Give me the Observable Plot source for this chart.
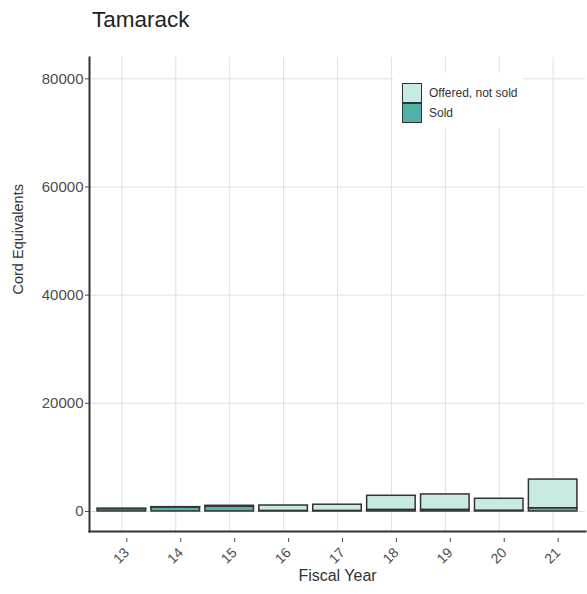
<!DOCTYPE html>
<html>
<head>
<meta charset="utf-8">
<script src="https://cdn.jsdelivr.net/npm/d3@7"></script>
<script src="https://cdn.jsdelivr.net/npm/@observablehq/plot@0.6"></script>
<style>
  body { margin: 0; background: white; font-family: "Liberation Sans", Arial, sans-serif; }
  #wrap { position: relative; width: 587px; height: 594px; }
  #title { position: absolute; left: 92px; top: 9px; font-size: 22.5px; line-height: 22px; color: #222; }
  #chart { position: absolute; left: 0; top: 50px; }
  #legend { position: absolute; left: 393px; top: 73px; width: 130px; height: 56px; background: white; }
  .key { position: absolute; left: 9px; width: 18px; height: 18px; border: 1px solid #333; }
  .lab { position: absolute; left: 36px; font-size: 12px; line-height: 12px; color: #333; }
</style>
</head>
<body>
<div id="wrap">
  <div id="title">Tamarack</div>
  <div id="chart"></div>
  <div id="legend"></div>
</div>
<script>
const years = ["13", "14", "15", "16", "17", "18", "19", "20", "21"];
const soldValues = [450, 750, 900, 100, 100, 300, 300, 150, 600];
const offeredNotSoldValues = [50, 50, 150, 1000, 1150, 2600, 2850, 2200, 5300];
const seriesNames = ["Sold", "Offered, not sold"];
const seriesColors = ["#52b2a7", "#c8eae5"];
const yTicks = [0, 20000, 40000, 60000, 80000];

const data = [];
years.forEach((yr, i) => {
  data.push({year: yr, type: "Sold", value: soldValues[i]});
  data.push({year: yr, type: "Offered, not sold", value: offeredNotSoldValues[i]});
});

const chart = Plot.plot({
  width: 587,
  height: 544,
  marginTop: 7,
  marginBottom: 63,
  marginLeft: 89,
  marginRight: 2,
  style: {fontFamily: "Liberation Sans, Arial, sans-serif", fontSize: "14px", color: "#4d4d4d", background: "white"},
  x: {domain: years, paddingInner: 0.1, paddingOuter: 0.15, round: false, label: null},
  y: {domain: [-3704, 83944], label: null},
  color: {domain: seriesNames, range: seriesColors},
  marks: [
    Plot.gridX(years, {stroke: "#e0e0e0", strokeOpacity: 1, strokeWidth: 1}),
    Plot.gridY(yTicks, {stroke: "#e0e0e0", strokeOpacity: 1, strokeWidth: 1}),
    Plot.barY(data, {x: "year", y: "value", fill: "type", stroke: "#333", strokeWidth: 1.5, order: seriesNames}),
    Plot.axisY(yTicks, {tickSize: 4, tickFormat: d => String(d), label: null, fontSize: 15, tickPadding: 2}),
    Plot.axisX({tickRotate: -45, tickSize: 4, label: null, fontSize: 14, dx: 5, dy: 7}),
    Plot.frame({anchor: "left", stroke: "#333", strokeWidth: 2}),
    Plot.frame({anchor: "bottom", stroke: "#333", strokeWidth: 2}),
    Plot.text(["Fiscal Year"], {frameAnchor: "bottom", dy: 49, fontSize: 16, fill: "#333"}),
    Plot.text(["Cord Equivalents"], {frameAnchor: "left", dx: -71, rotate: -90, fontSize: 14.5, fill: "#333"})
  ]
});
document.getElementById("chart").appendChild(chart);

const legend = document.getElementById("legend");
seriesNames.slice().reverse().forEach((name, i) => {
  const col = seriesColors[seriesNames.indexOf(name)];
  const k = document.createElement("div");
  k.className = "key";
  k.style.top = (10 + i * 19.5) + "px";
  k.style.background = col;
  legend.appendChild(k);
  const t = document.createElement("div");
  t.className = "lab";
  t.style.top = (14 + i * 19.5) + "px";
  t.textContent = name;
  legend.appendChild(t);
});
</script>
</body>
</html>
